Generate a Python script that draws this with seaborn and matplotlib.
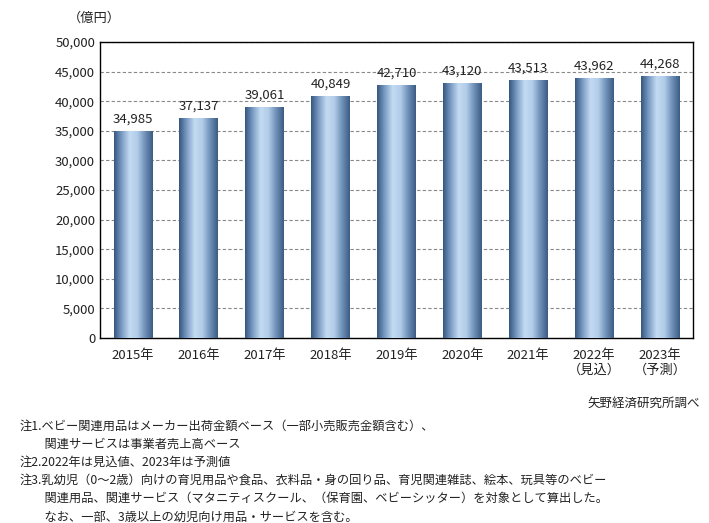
import numpy as np
import pandas as pd
import seaborn as sns
import matplotlib.pyplot as plt
from matplotlib.colors import LinearSegmentedColormap
from matplotlib.ticker import FuncFormatter

plt.rcParams['font.family'] = ['Noto Sans CJK JP']

years = ['2015年', '2016年', '2017年', '2018年', '2019年', '2020年', '2021年', '2022年\n（見込）', '2023年\n（予測）']
values = [34985, 37137, 39061, 40849, 42710, 43120, 43513, 43962, 44268]
df = pd.DataFrame({'year': years, 'value': values})

fig = plt.figure(figsize=(7.09, 5.23), dpi=100)
ax = fig.add_axes([100 / 709, 1 - 338 / 523, 593 / 709, 296 / 523])
sns.barplot(data=df, x='year', y='value', ax=ax, width=0.59, color='#7fa0c8')

# cylinder-like horizontal gradient on each bar
cmap = LinearSegmentedColormap.from_list('cyl', ['#35557d', '#7b9cc4', '#c3dbf2', '#b3cde9', '#6f90b8', '#3b5b82'])
grad = np.linspace(0, 1, 256).reshape(1, -1)
for p in ax.patches:
    x0, y0 = p.get_x(), p.get_y()
    w, h = p.get_width(), p.get_height()
    im = ax.imshow(grad, cmap=cmap, extent=[x0, x0 + w, y0, y0 + h], aspect='auto', zorder=3)
    im.set_clip_path(p)
    p.set_facecolor('none')
    ax.text(x0 + w / 2, h + 900, f'{int(h):,}', ha='center', va='bottom', fontsize=9.5, color='#222222')

ax.set_xlim(-0.5, len(years) - 0.5)
ax.set_ylim(0, 50000)
ax.set_yticks(range(0, 50001, 5000))
ax.yaxis.set_major_formatter(FuncFormatter(lambda v, _: f'{int(v):,}'))
ax.yaxis.grid(True, linestyle=(0, (3, 2)), color='#888888', linewidth=0.8)
ax.set_axisbelow(True)
ax.tick_params(length=0, labelsize=9.5, colors='#222222')
ax.tick_params(axis='x', pad=8)
ax.set_xlabel('')
ax.set_ylabel('')
for s in ax.spines.values():
    s.set_color('black')
    s.set_linewidth(1)

fig.text(68 / 709, 1 - 18 / 523, '（億円）', fontsize=9.5, va='center', color='#222222')
fig.text(700 / 709, 1 - 403 / 523, '矢野経済研究所調べ', fontsize=9, ha='right', va='center', color='#222222')
notes = ['注1.ベビー関連用品はメーカー出荷金額ベース（一部小売販売金額含む）、',
         '　　関連サービスは事業者売上高ベース',
         '注2.2022年は見込値、2023年は予測値',
         '注3.乳幼児（0～2歳）向けの育児用品や食品、衣料品・身の回り品、育児関連雑誌、絵本、玩具等のベビー',
         '　　関連用品、関連サービス（マタニティスクール、（保育園、ベビーシッター）を対象として算出した。',
         '　　なお、一部、3歳以上の幼児向け用品・サービスを含む。']
for i, line in enumerate(notes):
    fig.text(20 / 709, 1 - (426 + i * 18.2) / 523, line, fontsize=8.8, va='center', color='#222222')

fig.savefig('out.png', dpi=100)
